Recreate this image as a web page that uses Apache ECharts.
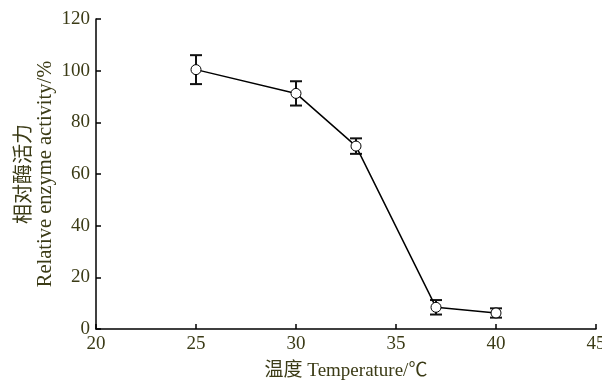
<!DOCTYPE html>
<html><head><meta charset="utf-8">
<script src="https://cdn.jsdelivr.net/npm/echarts@6/dist/echarts.min.js"></script>
<style>html,body{margin:0;padding:0;background:#fff}#c{width:602px;height:383px}</style>
</head><body><div id="c"></div>
<script>
const temps = [25, 30, 33, 37, 40];
const activity = [100.4, 91.2, 70.8, 8.4, 6.2];
const errors = [5.6, 4.7, 3.0, 2.8, 1.8];
const xTicks = [20, 25, 30, 35, 40, 45];
const yTicks = [0, 20, 40, 60, 80, 100, 120];
const yTitleCn = '相对酶活力';
const yTitleEn = 'Relative enzyme activity/%';
const xTitle = '温度 Temperature/℃';

const txt = '#3b3b16';
const serif = '"Liberation Serif","Times New Roman",serif';
const chart = echarts.init(document.getElementById('c'));
chart.setOption({
  animation: false,
  grid: {left: 96, right: 6, top: 19, bottom: 54, outerBoundsMode: 'none', containLabel: false},
  xAxis: {
    type: 'value', min: xTicks[0], max: xTicks[xTicks.length-1], interval: 5,
    axisLine: {lineStyle: {color: '#000', width: 1.5}},
    axisTick: {inside: true, length: 5, lineStyle: {color: '#000', width: 1.5}},
    splitLine: {show: false},
    axisLabel: {color: txt, fontFamily: serif, fontSize: 19, margin: 6},
    name: xTitle, nameLocation: 'middle', nameGap: 33,
    nameTextStyle: {color: txt, fontFamily: serif + ',"Noto Sans CJK SC"', fontSize: 19}
  },
  yAxis: {
    type: 'value', min: yTicks[0], max: yTicks[yTicks.length-1], interval: 20,
    axisLine: {lineStyle: {color: '#000', width: 1.5}},
    axisTick: {inside: true, length: 5, lineStyle: {color: '#000', width: 1.5}},
    splitLine: {show: false},
    axisLabel: {color: txt, fontFamily: serif, fontSize: 19, margin: 6}
  },
  graphic: [
    {type: 'text', x: 22, y: 174, rotation: Math.PI/2, style: {text: yTitleCn, fill: txt, font: '20px "Noto Sans CJK SC", serif', align: 'center', verticalAlign: 'middle'}},
    {type: 'text', x: 46, y: 174, rotation: Math.PI/2, style: {text: yTitleEn, fill: txt, font: '20.5px ' + serif, align: 'center', verticalAlign: 'middle'}}
  ],
  series: [
    {
      type: 'custom',
      data: temps.map((t, i) => [t, activity[i] - errors[i], activity[i] + errors[i]]),
      renderItem: function (params, api) {
        const x = api.value(0);
        const lo = api.coord([x, api.value(1)]);
        const hi = api.coord([x, api.value(2)]);
        const w = 6;
        const st = {stroke: '#111', lineWidth: 2};
        return {type: 'group', children: [
          {type: 'line', shape: {x1: lo[0], y1: lo[1], x2: hi[0], y2: hi[1]}, style: st},
          {type: 'line', shape: {x1: lo[0]-w, y1: lo[1], x2: lo[0]+w, y2: lo[1]}, style: st},
          {type: 'line', shape: {x1: hi[0]-w, y1: hi[1], x2: hi[0]+w, y2: hi[1]}, style: st}
        ]};
      },
      z: 1
    },
    {
      type: 'line',
      data: temps.map((t, i) => [t, activity[i]]),
      symbol: 'circle', symbolSize: 10,
      lineStyle: {color: '#000', width: 1.5},
      itemStyle: {color: '#fff', borderColor: '#000', borderWidth: 1},
      z: 3
    }
  ]
});
</script></body></html>
